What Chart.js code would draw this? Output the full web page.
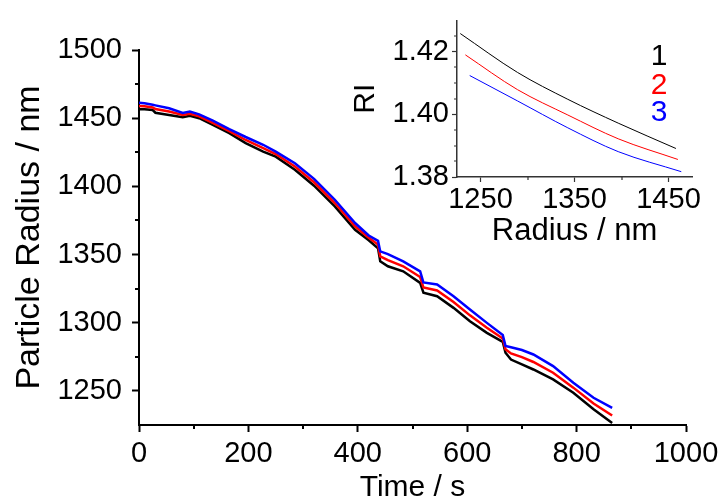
<!DOCTYPE html>
<html>
<head>
<meta charset="utf-8">
<script src="https://cdn.jsdelivr.net/npm/chart.js@4.4.0/dist/chart.umd.min.js"></script>
<style>
  body { margin: 0; background: #fff; }
  #wrap { position: relative; width: 725px; height: 504px; }
  canvas { position: absolute; left: 0; top: 0; }
</style>
</head>
<body>
<div id="wrap">
  <canvas id="main" width="725" height="504"></canvas>
  <canvas id="inset" width="725" height="504"></canvas>
</div>
<script>
// main plot: particle radius vs time
const time = [0, 10, 25, 30, 55, 80, 93, 110, 135, 165, 195, 227, 250, 285, 320, 358, 395, 420, 437, 441,
  455, 483, 514, 520, 545, 575, 605, 636, 665, 670, 680, 700, 721, 757, 794, 831, 865];
const radius1 = [1456.6, 1456.5, 1456, 1454, 1452.4, 1450.7, 1451.7, 1450, 1445, 1439, 1431.7, 1425.5, 1421.8,
  1412.2, 1400.5, 1385.3, 1368.2, 1360.5, 1354.5, 1345, 1341.4, 1337.7, 1329.2, 1322, 1319.4, 1310.9, 1301.1,
  1292.6, 1286, 1278, 1273, 1269.5, 1265.7, 1258.4, 1248.7, 1236.5, 1226.5];
const radius2 = [1459, 1458.8, 1457.9, 1456.7, 1454.9, 1452.3, 1453.3, 1451.4, 1446.6, 1440.5, 1434, 1428, 1423.7,
  1414.6, 1403, 1387.8, 1370.7, 1362.3, 1357.3, 1348.7, 1345.9, 1341.4, 1333.5, 1325.8, 1323.7, 1315.2, 1305.4,
  1296.3, 1288.5, 1280.5, 1277.5, 1274.8, 1271.2, 1263.3, 1252.4, 1240.8, 1232];
const radius3 = [1461.4, 1461, 1459.8, 1459.4, 1457.3, 1453.8, 1454.8, 1452.8, 1448.2, 1442, 1436.2, 1430.5, 1425.5,
  1417, 1405.5, 1390.2, 1373.1, 1364, 1360, 1352.3, 1350.3, 1345, 1337.7, 1329.5, 1328, 1319.4, 1309.7,
  1299.9, 1291, 1283, 1282, 1280, 1276.7, 1268.2, 1256, 1245, 1237.5];
const timeTicks = [0, 200, 400, 600, 800, 1000];
const timeMinor = [100, 300, 500, 700, 900];
const radiusTicks = [1250, 1300, 1350, 1400, 1450, 1500];
const radiusMinor = [1275, 1325, 1375, 1425, 1475];

// inset: RI vs radius
const insetR1 = [1228.5, 1289.3, 1342.9, 1396.5, 1457.9];
const insetRI1 = [1.4258, 1.4134, 1.4048, 1.3972, 1.3891];
const insetR2 = [1233.9, 1289.3, 1342.9, 1396.5, 1460];
const insetRI2 = [1.4190, 1.4079, 1.3998, 1.3922, 1.3856];
const insetR3 = [1238.5, 1289.3, 1342.9, 1396.5, 1463.6];
const insetRI3 = [1.4124, 1.4043, 1.3957, 1.3881, 1.3817];
const insetRTicks = [1250, 1350, 1450];
const insetRMinor = [1300, 1400];
const riTicks = [1.38, 1.40, 1.42];
const riMinor = [1.385, 1.39, 1.395, 1.405, 1.41, 1.415, 1.425];
const seriesLabels = ['1', '2', '3'];
const seriesColors = ['#000000', '#ff0000', '#0000ff'];

const FONT = "'Liberation Sans', Arial, sans-serif";
Chart.defaults.font.family = FONT;
Chart.defaults.color = '#000';

function pts(xs, ys) {
  return xs.map((x, i) => ({ x: x, y: ys[i] }));
}

// short ticks between the labelled ones
const minorTicks = {
  id: 'minorTicks',
  afterDraw(chart, args, opts) {
    const ctx = chart.ctx;
    const xs = chart.scales.x, ys = chart.scales.y;
    ctx.save();
    ctx.strokeStyle = opts.color;
    ctx.lineWidth = opts.width;
    ctx.beginPath();
    opts.x.forEach(v => {
      const px = Math.round(xs.getPixelForValue(v));
      ctx.moveTo(px, chart.chartArea.bottom);
      ctx.lineTo(px, chart.chartArea.bottom + opts.len);
    });
    opts.y.forEach(v => {
      const py = Math.round(ys.getPixelForValue(v));
      ctx.moveTo(chart.chartArea.left, py);
      ctx.lineTo(chart.chartArea.left - opts.len, py);
    });
    ctx.stroke();
    ctx.restore();
  }
};

new Chart(document.getElementById('main'), {
  type: 'line',
  data: {
    datasets: [
      { data: pts(time, radius1), borderColor: seriesColors[0], order: 3 },
      { data: pts(time, radius2), borderColor: seriesColors[1], order: 2 },
      { data: pts(time, radius3), borderColor: seriesColors[2], order: 1 }
    ]
  },
  options: {
    responsive: false,
    animation: false,
    devicePixelRatio: 1,
    layout: { padding: { left: 4, top: 50, right: 39, bottom: 0 } },
    elements: { line: { borderWidth: 2.5, tension: 0 }, point: { radius: 0 } },
    plugins: {
      legend: { display: false },
      tooltip: { enabled: false },
      minorTicks: { x: timeMinor, y: radiusMinor, len: 4, width: 2, color: '#000' }
    },
    scales: {
      x: {
        type: 'linear', min: 0, max: 1000,
        afterBuildTicks: s => { s.ticks = timeTicks.map(v => ({ value: v })); },
        afterFit: s => { s.height = 79; },
        border: { color: '#000', width: 2 },
        grid: { drawOnChartArea: false, tickLength: 7, tickWidth: 2, tickColor: '#000' },
        ticks: { color: '#000', font: { size: 29 }, padding: 5, maxRotation: 0, autoSkip: false, callback: v => String(v) },
        title: { display: true, text: 'Time / s', color: '#000', font: { size: 30, lineHeight: 1.1 }, padding: { top: 0, bottom: 0 } }
      },
      y: {
        type: 'linear', min: 1225, max: 1500,
        afterBuildTicks: s => { s.ticks = radiusTicks.map(v => ({ value: v })); },
        afterFit: s => { s.width = 135; },
        border: { color: '#000', width: 2 },
        grid: { drawOnChartArea: false, tickLength: 7, tickWidth: 2, tickColor: '#000' },
        ticks: { color: '#000', font: { size: 29 }, padding: 10, callback: v => String(v) },
        title: { display: true, text: 'Particle Radius / nm', color: '#000', font: { size: 34 }, padding: { top: 5, bottom: 0 } }
      }
    }
  },
  plugins: [minorTicks]
});

// the 1 2 3 labels of the inset, placed in data coordinates
const seriesTags = {
  id: 'seriesTags',
  afterDraw(chart, args, opts) {
    const ctx = chart.ctx;
    const xs = chart.scales.x, ys = chart.scales.y;
    ctx.save();
    ctx.font = opts.size + 'px ' + FONT;
    ctx.textAlign = 'center';
    ctx.textBaseline = 'alphabetic';
    seriesLabels.forEach((t, i) => {
      ctx.fillStyle = seriesColors[i];
      ctx.fillText(t, xs.getPixelForValue(opts.r), ys.getPixelForValue(opts.ri[i]) + opts.size * 0.36);
    });
    ctx.restore();
  }
};

new Chart(document.getElementById('inset'), {
  type: 'line',
  data: {
    datasets: [
      { data: pts(insetR1, insetRI1), borderColor: seriesColors[0] },
      { data: pts(insetR2, insetRI2), borderColor: seriesColors[1] },
      { data: pts(insetR3, insetRI3), borderColor: seriesColors[2] }
    ]
  },
  options: {
    responsive: false,
    animation: false,
    devicePixelRatio: 1,
    layout: { padding: { left: 348, top: 12, right: 33, bottom: 254 } },
    elements: { line: { borderWidth: 1, cubicInterpolationMode: 'monotone' }, point: { radius: 0 } },
    plugins: {
      legend: { display: false },
      tooltip: { enabled: false },
      minorTicks: { x: insetRMinor, y: riMinor, len: 3, width: 1.2, color: '#333' },
      seriesTags: { r: 1440, ri: [1.4191, 1.4100, 1.4013], size: 30 }
    },
    scales: {
      x: {
        type: 'linear', min: 1225, max: 1475,
        afterBuildTicks: s => { s.ticks = insetRTicks.map(v => ({ value: v })); },
        afterFit: s => { s.height = 73; },
        border: { color: '#333', width: 1.5 },
        grid: { drawOnChartArea: false, tickLength: 5, tickWidth: 1.2, tickColor: '#333' },
        ticks: { color: '#000', font: { size: 29 }, padding: 1, maxRotation: 0, autoSkip: false, callback: v => String(v) },
        title: { display: true, text: 'Radius / nm', color: '#000', font: { size: 31 }, padding: { top: 0, bottom: 0 } }
      },
      y: {
        type: 'linear', min: 1.38, max: 1.43,
        afterBuildTicks: s => { s.ticks = riTicks.map(v => ({ value: v })); },
        afterFit: s => { s.width = 109; },
        border: { color: '#333', width: 1.5 },
        grid: { drawOnChartArea: false, tickLength: 5, tickWidth: 1.2, tickColor: '#333' },
        ticks: { color: '#000', font: { size: 29 }, padding: 3, callback: v => v.toFixed(2) },
        title: { display: true, text: 'RI', color: '#000', font: { size: 30 }, padding: { top: 0, bottom: 0 } }
      }
    }
  },
  plugins: [minorTicks, seriesTags]
});
</script>
</body>
</html>
